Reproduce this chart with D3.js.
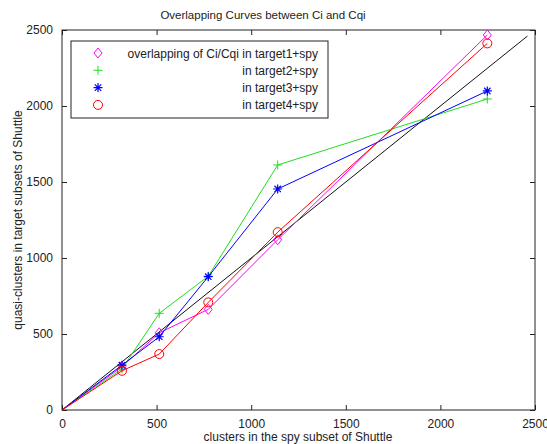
<!DOCTYPE html>
<html>
<head>
<meta charset="utf-8">
<script src="https://cdn.jsdelivr.net/npm/d3@7"></script>
<style>
  body { margin: 0; background: #fff; }
  text { font-family: "Liberation Sans", Arial, sans-serif; fill: #222; }
</style>
</head>
<body>
<svg id="chart" width="547" height="444"></svg>
<script>
// values
const xValues = [0, 317, 514, 773, 1140, 2248];
const target1 = [0, 285, 508, 662, 1120, 2467];
const target2 = [0, 270, 636, 880, 1612, 2046];
const target3 = [0, 295, 482, 877, 1454, 2099];
const target4 = [0, 258, 368, 708, 1170, 2412];
const refLine = [0, 2460];
const tickValues = [0, 500, 1000, 1500, 2000, 2500];
const seriesNames = [
    'overlapping of Ci/Cqi in target1+spy',
    'in target2+spy',
    'in target3+spy',
    'in target4+spy'
];

const svg = d3.select('#chart');
svg.append('rect').attr('width', 547).attr('height', 444).attr('fill', '#fff');

const plot = { left: 62, right: 535, top: 30, bottom: 410 };
const x = d3.scaleLinear().domain([0, 2500]).range([plot.left, plot.right]);
const y = d3.scaleLinear().domain([0, 2500]).range([plot.bottom, plot.top]);

const series = [
    { vals: target1, color: '#ff00ff', marker: 'diamond' },
    { vals: target2, color: '#22dd22', marker: 'plus' },
    { vals: target3, color: '#0000ff', marker: 'star' },
    { vals: target4, color: '#ff0000', marker: 'circle' }
];

// box
svg.append('rect')
    .attr('x', plot.left).attr('y', plot.top)
    .attr('width', plot.right - plot.left).attr('height', plot.bottom - plot.top)
    .attr('fill', 'none').attr('stroke', '#222').attr('stroke-width', 1);

// axes with inward ticks
const tickFont = g => g.selectAll('text')
    .style('font-size', '12px').style('font-family', '"Liberation Sans", Arial, sans-serif').attr('fill', '#222');
const fmt = d3.format('d');

const xAxis = svg.append('g').attr('transform', `translate(0,${plot.bottom})`)
    .call(d3.axisBottom(x).tickValues(tickValues).tickFormat(fmt).tickSizeInner(-5).tickSizeOuter(0).tickPadding(9));
xAxis.select('.domain').remove();
xAxis.call(tickFont);
const yAxis = svg.append('g').attr('transform', `translate(${plot.left},0)`)
    .call(d3.axisLeft(y).tickValues(tickValues).tickFormat(fmt).tickSizeInner(-5).tickSizeOuter(0).tickPadding(9));
yAxis.select('.domain').remove();
yAxis.call(tickFont);
const xTop = svg.append('g').attr('transform', `translate(0,${plot.top})`)
    .call(d3.axisTop(x).tickValues(tickValues).tickSizeInner(-5).tickSizeOuter(0).tickFormat(''));
xTop.select('.domain').remove();
const yRight = svg.append('g').attr('transform', `translate(${plot.right},0)`)
    .call(d3.axisRight(y).tickValues(tickValues).tickSizeInner(-5).tickSizeOuter(0).tickFormat(''));
yRight.select('.domain').remove();
svg.selectAll('.tick line').attr('stroke', '#222');

const line = d3.line().x(d => x(d[0])).y(d => y(d[1]));

// reference diagonal
svg.append('path')
    .datum(refLine.map(v => [v, v]))
    .attr('d', line).attr('fill', 'none').attr('stroke', '#111').attr('stroke-width', 1);

const drawMarker = (g, type, color, cx, cy) => {
    if (type === 'diamond') {
        g.append('path').attr('d', `M${cx},${cy - 5}L${cx + 4},${cy}L${cx},${cy + 5}L${cx - 4},${cy}Z`)
            .attr('fill', 'none').attr('stroke', color);
    } else if (type === 'plus') {
        g.append('path').attr('d', `M${cx - 4.5},${cy}H${cx + 4.5}M${cx},${cy - 4.5}V${cy + 4.5}`)
            .attr('stroke', color);
    } else if (type === 'star') {
        g.append('path').attr('d', `M${cx - 4.5},${cy}H${cx + 4.5}M${cx},${cy - 4.5}V${cy + 4.5}` +
            `M${cx - 3.2},${cy - 3.2}L${cx + 3.2},${cy + 3.2}M${cx - 3.2},${cy + 3.2}L${cx + 3.2},${cy - 3.2}`)
            .attr('stroke', color).attr('stroke-width', 1.2);
    } else {
        g.append('circle').attr('cx', cx).attr('cy', cy).attr('r', 4.5)
            .attr('fill', 'none').attr('stroke', color);
    }
};

series.forEach(s => {
    const pts = xValues.map((v, i) => [v, s.vals[i]]);
    svg.append('path').datum(pts)
        .attr('d', line).attr('fill', 'none').attr('stroke', s.color).attr('stroke-width', 1);
    const g = svg.append('g');
    pts.filter(p => p[0] > 0).forEach(p => drawMarker(g, s.marker, s.color, x(p[0]), y(p[1])));
});

// legend
const lg = svg.append('g');
lg.append('rect').attr('x', 71).attr('y', 41).attr('width', 257).attr('height', 77)
    .attr('fill', '#fff').attr('stroke', '#222');
series.forEach((s, i) => {
    const ly = 53 + i * 17.3;
    drawMarker(lg, s.marker, s.color, 98, ly);
    lg.append('text').attr('x', 318).attr('y', ly + 4.5)
        .attr('text-anchor', 'end').style('font-size', '12px').text(seriesNames[i]);
});

// titles
svg.append('text').attr('x', 263).attr('y', 19).attr('text-anchor', 'middle')
    .style('font-size', '11.5px').text('Overlapping Curves between Ci and Cqi');
svg.append('text').attr('x', 298).attr('y', 441).attr('text-anchor', 'middle')
    .style('font-size', '12px').text('clusters in the spy subset of Shuttle');
svg.append('text').attr('transform', `translate(22,${(plot.top + plot.bottom) / 2}) rotate(-90)`)
    .attr('text-anchor', 'middle').style('font-size', '12px')
    .text('quasi-clusters in target subsets of Shuttle');
</script>
</body>
</html>
